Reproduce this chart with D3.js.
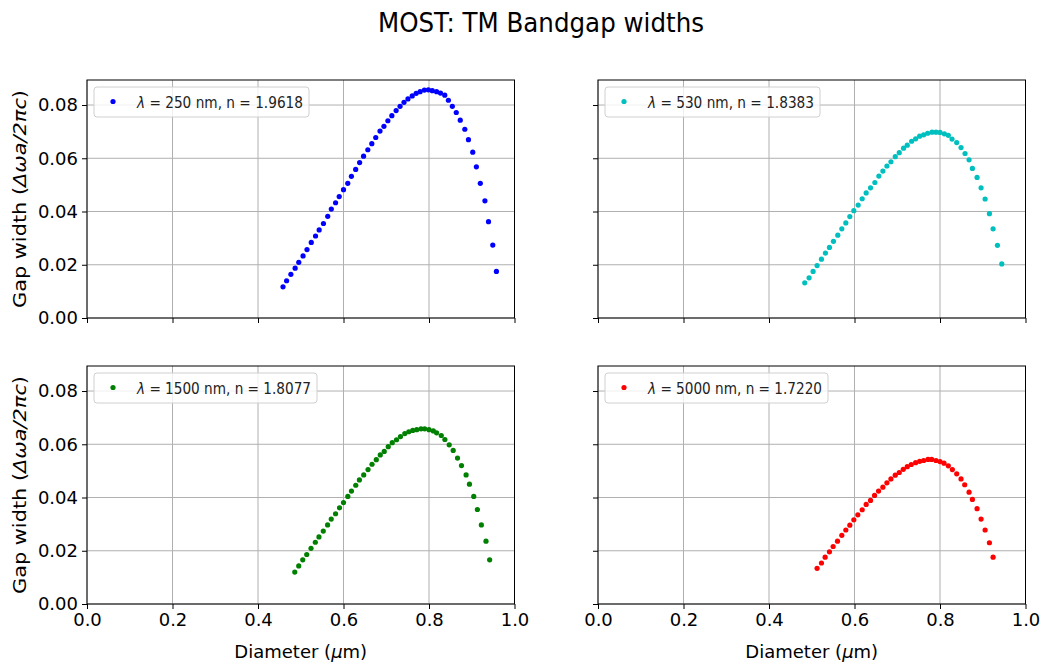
<!DOCTYPE html>
<html>
<head>
<meta charset="utf-8">
<script src="https://cdn.jsdelivr.net/npm/d3@7"></script>
<style>
  body { margin: 0; background: #fff; }
  svg { display: block; font-family: "DejaVu Sans", sans-serif; }
</style>
</head>
<body>
<svg id="chart" width="1043" height="666"></svg>
<script>
// ---- data ----
const title = "MOST: TM Bandgap widths";
const xTicks = [0.0, 0.2, 0.4, 0.6, 0.8, 1.0];
const yTicks = [0.00, 0.02, 0.04, 0.06, 0.08];

const d250 = [0.4585,0.4669,0.4769,0.4869,0.4954,0.5054,0.5146,0.5246,0.5346,0.5431,0.5531,0.5631,0.5715,0.5815,0.5900,0.6000,0.6100,0.6185,0.6285,0.6377,0.6469,0.6569,0.6662,0.6754,0.6854,0.6946,0.7038,0.7131,0.7231,0.7323,0.7415,0.7508,0.7608,0.7700,0.7792,0.7892,0.7985,0.8077,0.8177,0.8269,0.8369,0.8454,0.8546,0.8638,0.8731,0.8838,0.8923,0.9023,0.9108,0.9200,0.9308,0.9392,0.9492,0.9577];
const g250 = [0.0117,0.0140,0.0164,0.0187,0.0209,0.0233,0.0257,0.0284,0.0308,0.0331,0.0355,0.0382,0.0409,0.0433,0.0456,0.0482,0.0506,0.0532,0.0558,0.0584,0.0608,0.0632,0.0655,0.0678,0.0702,0.0720,0.0741,0.0760,0.0779,0.0795,0.0810,0.0823,0.0834,0.0844,0.0850,0.0856,0.0857,0.0854,0.0850,0.0845,0.0837,0.0818,0.0795,0.0772,0.0743,0.0709,0.0670,0.0623,0.0568,0.0506,0.0440,0.0362,0.0274,0.0175];

const d530 = [0.4836,0.4938,0.5031,0.5125,0.5227,0.5320,0.5414,0.5508,0.5609,0.5703,0.5797,0.5891,0.5984,0.6086,0.6180,0.6273,0.6375,0.6477,0.6570,0.6664,0.6758,0.6852,0.6953,0.7047,0.7148,0.7234,0.7336,0.7430,0.7523,0.7617,0.7711,0.7813,0.7906,0.8000,0.8102,0.8195,0.8281,0.8391,0.8492,0.8586,0.8680,0.8758,0.8867,0.8961,0.9055,0.9156,0.9242,0.9344,0.9445];
const g530 = [0.0132,0.0151,0.0175,0.0197,0.0221,0.0244,0.0265,0.0288,0.0311,0.0335,0.0357,0.0381,0.0403,0.0424,0.0448,0.0470,0.0489,0.0509,0.0533,0.0552,0.0571,0.0587,0.0606,0.0621,0.0638,0.0649,0.0664,0.0673,0.0683,0.0688,0.0694,0.0698,0.0698,0.0697,0.0692,0.0686,0.0672,0.0659,0.0640,0.0618,0.0594,0.0562,0.0528,0.0489,0.0447,0.0392,0.0335,0.0273,0.0203];

const d1500 = [0.4860,0.4953,0.5047,0.5140,0.5240,0.5341,0.5426,0.5527,0.5628,0.5713,0.5814,0.5907,0.6000,0.6101,0.6186,0.6287,0.6372,0.6473,0.6574,0.6667,0.6767,0.6860,0.6953,0.7047,0.7140,0.7240,0.7333,0.7434,0.7527,0.7620,0.7713,0.7814,0.7899,0.8000,0.8101,0.8178,0.8287,0.8372,0.8473,0.8566,0.8667,0.8760,0.8868,0.8946,0.9047,0.9132,0.9225,0.9333,0.9419];
const g1500 = [0.0120,0.0143,0.0166,0.0186,0.0209,0.0232,0.0252,0.0274,0.0297,0.0319,0.0339,0.0361,0.0381,0.0404,0.0424,0.0446,0.0466,0.0485,0.0505,0.0525,0.0542,0.0560,0.0573,0.0591,0.0606,0.0617,0.0629,0.0640,0.0647,0.0652,0.0655,0.0658,0.0658,0.0655,0.0650,0.0643,0.0633,0.0618,0.0598,0.0577,0.0548,0.0520,0.0485,0.0450,0.0404,0.0355,0.0297,0.0236,0.0166];

const d5000 = [0.5125,0.5227,0.5313,0.5414,0.5500,0.5602,0.5703,0.5797,0.5891,0.5984,0.6078,0.6180,0.6273,0.6375,0.6469,0.6563,0.6664,0.6758,0.6852,0.6953,0.7047,0.7141,0.7234,0.7328,0.7430,0.7523,0.7617,0.7719,0.7805,0.7906,0.8000,0.8094,0.8195,0.8289,0.8391,0.8492,0.8578,0.8680,0.8758,0.8867,0.8961,0.9055,0.9156,0.9242];
const g5000 = [0.0134,0.0154,0.0176,0.0196,0.0216,0.0236,0.0258,0.0278,0.0296,0.0316,0.0335,0.0354,0.0374,0.0389,0.0408,0.0424,0.0439,0.0455,0.0470,0.0484,0.0494,0.0506,0.0516,0.0524,0.0531,0.0536,0.0539,0.0543,0.0543,0.0539,0.0535,0.0529,0.0519,0.0505,0.0489,0.0470,0.0448,0.0420,0.0393,0.0358,0.0319,0.0278,0.0230,0.0176];

const wavelengths = ["250", "530", "1500", "5000"];
const indices = ["1.9618", "1.8383", "1.8077", "1.7220"];
const colors = ["#0000ff", "#00bfbf", "#008000", "#ff0000"];
const diameters = [d250, d530, d1500, d5000];
const gaps = [g250, g530, g1500, g5000];

// ---- layout ----
const svg = d3.select("#chart");
const W = 427.5, H = 238;
const lefts = [87, 598], tops = [80, 366];
const x = d3.scaleLinear().domain([0, 1]).range([0, W]);
const y = d3.scaleLinear().domain([0, 0.0894]).range([H, 0]);

svg.append("text")
  .attr("x", 541).attr("y", 32)
  .attr("text-anchor", "middle")
  .attr("font-size", 27)
  .attr("textLength", 326).attr("lengthAdjust", "spacingAndGlyphs")
  .attr("fill", "#000")
  .text(title);

for (let i = 0; i < 4; i++) {
  const col = i % 2, row = Math.floor(i / 2);
  const g = svg.append("g").attr("transform", `translate(${lefts[col]},${tops[row]})`);

  // grid
  g.append("g").selectAll("line").data(xTicks).join("line")
    .attr("x1", d => x(d)).attr("x2", d => x(d)).attr("y1", 0).attr("y2", H)
    .attr("stroke", "#b0b0b0").attr("stroke-width", 1);
  g.append("g").selectAll("line").data(yTicks).join("line")
    .attr("x1", 0).attr("x2", W).attr("y1", d => y(d)).attr("y2", d => y(d))
    .attr("stroke", "#b0b0b0").attr("stroke-width", 1);

  // axes
  const xAxis = d3.axisBottom(x).tickValues(xTicks).tickSize(5).tickPadding(4)
    .tickFormat(row === 1 ? d3.format(".1f") : () => "");
  const yAxis = d3.axisLeft(y).tickValues(yTicks).tickSize(5).tickPadding(4)
    .tickFormat(col === 0 ? d3.format(".2f") : () => "");
  const gx = g.append("g").attr("transform", `translate(0,${H})`).call(xAxis);
  const gy = g.append("g").call(yAxis);
  [gx, gy].forEach(a => {
    a.select(".domain").remove();
    a.selectAll("line").attr("stroke", "#000").attr("stroke-width", 1);
    a.selectAll("text").attr("font-size", 18).attr("font-family", "DejaVu Sans").attr("fill", "#000");
  });

  // frame
  g.append("rect").attr("x", 0).attr("y", 0).attr("width", W).attr("height", H)
    .attr("fill", "none").attr("stroke", "#000").attr("stroke-width", 1);

  // points
  const pts = diameters[i].map((d, k) => [d, gaps[i][k]]);
  g.append("g").selectAll("circle").data(pts).join("circle")
    .attr("cx", d => x(d[0])).attr("cy", d => y(d[1])).attr("r", 2.6)
    .attr("fill", colors[i]);

  // legend
  const lg = g.append("g").attr("transform", "translate(7,7)");
  const labelLen = wavelengths[i].length === 3 ? 166 : 174;
  lg.append("rect").attr("x", 0).attr("y", 0)
    .attr("width", labelLen + 49).attr("height", 30).attr("rx", 3)
    .attr("fill", "#fff").attr("fill-opacity", 0.8)
    .attr("stroke", "#d0d0d0").attr("stroke-width", 1);
  lg.append("circle").attr("cx", 19).attr("cy", 14.5).attr("r", 2.6).attr("fill", colors[i]);
  const t = lg.append("text").attr("x", 43).attr("y", 20.5)
    .attr("font-size", 16.5).attr("fill", "#222")
    .attr("textLength", labelLen).attr("lengthAdjust", "spacingAndGlyphs");
  t.append("tspan").attr("font-style", "italic").text("λ");
  t.append("tspan").text(` = ${wavelengths[i]} nm, n = ${indices[i]}`);

  // axis labels
  if (row === 1) {
    g.append("text").attr("x", W / 2).attr("y", H + 54)
      .attr("text-anchor", "middle").attr("font-size", 18).attr("fill", "#000")
      .html("Diameter (<tspan font-style='italic'>μ</tspan>m)");
  }
  if (col === 0) {
    const yl = g.append("text")
      .attr("transform", `translate(${-61},${H / 2}) rotate(-90)`)
      .attr("text-anchor", "middle").attr("font-size", 18).attr("fill", "#000")
      .attr("textLength", 218).attr("lengthAdjust", "spacingAndGlyphs");
    yl.append("tspan").text("Gap width (");
    yl.append("tspan").attr("font-style", "italic").text("Δωa/2πc");
    yl.append("tspan").text(")");
  }
}
</script>
</body>
</html>
